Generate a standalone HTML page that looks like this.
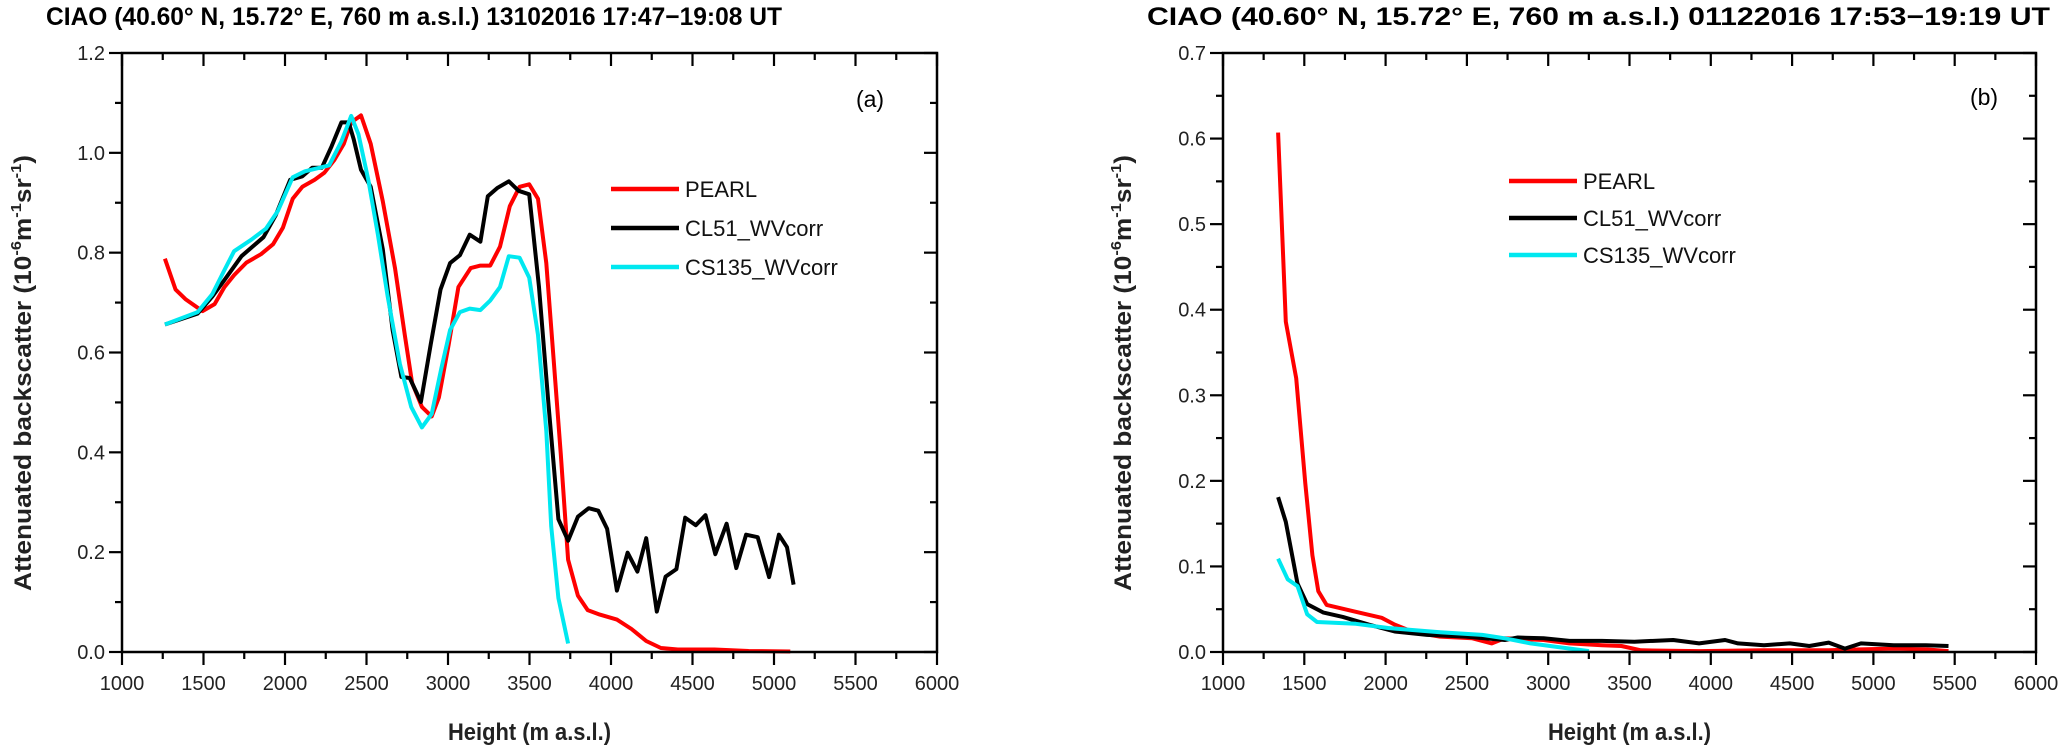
<!DOCTYPE html>
<html><head><meta charset="utf-8"><style>
body{margin:0;background:#fff;}
svg{display:block;font-family:"Liberation Sans",Arial,sans-serif;}
</style></head><body>
<svg id="chart" width="2067" height="750" viewBox="0 0 2067 750" xmlns="http://www.w3.org/2000/svg"></svg>
<script>
// Panel (a) data
const aPearlX=[1263,1329,1389,1494,1568,1628,1688,1763,1853,1927,1987,2047,2107,2182,2241,2301,2361,2406,2466,2526,2600,2675,2735,2780,2840,2900,2944,3004,3064,3139,3199,3259,3319,3379,3439,3498,3552,3603,3648,3692,3737,3797,3857,3931,4036,4126,4216,4306,4410,4635,4844,5100];
const aPearlY=[0.788,0.726,0.707,0.683,0.697,0.731,0.755,0.78,0.797,0.817,0.85,0.908,0.932,0.946,0.960,0.985,1.018,1.061,1.075,1.018,0.903,0.769,0.635,0.539,0.491,0.472,0.51,0.616,0.731,0.769,0.774,0.774,0.812,0.893,0.932,0.937,0.908,0.779,0.587,0.396,0.185,0.113,0.084,0.075,0.065,0.046,0.022,0.008,0.005,0.005,0.002,0.001];
const aCl51X=[1263,1464,1554,1628,1733,1868,1942,2032,2107,2167,2226,2286,2346,2391,2421,2466,2526,2600,2660,2714,2765,2834,2894,2954,3013,3073,3133,3199,3244,3304,3373,3433,3498,3558,3618,3677,3737,3797,3863,3922,3976,4036,4102,4162,4216,4281,4335,4401,4455,4520,4580,4640,4709,4769,4829,4900,4970,5030,5080,5120];
const aCl51Y=[0.656,0.678,0.712,0.745,0.793,0.831,0.874,0.946,0.953,0.970,0.970,1.013,1.061,1.061,1.028,0.966,0.932,0.807,0.645,0.551,0.549,0.501,0.616,0.726,0.779,0.795,0.836,0.822,0.913,0.930,0.943,0.924,0.917,0.731,0.491,0.266,0.223,0.271,0.288,0.283,0.247,0.123,0.199,0.161,0.228,0.081,0.151,0.166,0.269,0.254,0.274,0.196,0.257,0.168,0.235,0.23,0.15,0.235,0.21,0.135];
const aCsX=[1263,1464,1554,1628,1688,1793,1883,1957,2047,2122,2211,2271,2346,2406,2451,2511,2570,2630,2705,2774,2840,2900,2959,3013,3073,3133,3199,3259,3319,3373,3439,3498,3552,3603,3633,3677,3737];
const aCsY=[0.656,0.681,0.717,0.765,0.803,0.826,0.848,0.884,0.951,0.963,0.970,0.975,1.023,1.074,1.037,0.946,0.836,0.712,0.577,0.491,0.450,0.477,0.568,0.645,0.681,0.688,0.685,0.704,0.731,0.793,0.790,0.750,0.635,0.443,0.252,0.108,0.017];
// Panel (b) data
const bPearlX=[1339,1386,1450,1506,1550,1586,1637,1817,1976,2056,2175,2335,2534,2653,2733,2972,3131,3331,3450,3570,3928,4327,4725,4924,5124,5323,5462];
const bPearlY=[0.607,0.386,0.320,0.197,0.113,0.071,0.055,0.047,0.040,0.032,0.023,0.018,0.016,0.010,0.016,0.014,0.010,0.008,0.007,0.002,0.001,0.002,0.002,0.003,0.004,0.003,0.001];
const bCl51X=[1339,1386,1458,1518,1618,1737,1896,2056,2255,2494,2733,2813,2972,3131,3331,3530,3769,3928,4088,4167,4327,4486,4606,4725,4825,4924,5124,5323,5462];
const bCl51Y=[0.181,0.152,0.080,0.056,0.046,0.041,0.032,0.024,0.020,0.018,0.014,0.017,0.016,0.013,0.013,0.012,0.014,0.010,0.014,0.010,0.008,0.010,0.007,0.011,0.004,0.010,0.008,0.008,0.007];
const bCsX=[1339,1398,1458,1518,1578,1817,2016,2335,2594,2733,2892,3052,3251];
const bCsY=[0.109,0.085,0.077,0.044,0.035,0.033,0.028,0.023,0.020,0.016,0.010,0.006,0.001];
const xTicks=[1000,1500,2000,2500,3000,3500,4000,4500,5000,5500,6000];
const aYTicks=["0.0","0.2","0.4","0.6","0.8","1.0","1.2"];
const bYTicks=["0.0","0.1","0.2","0.3","0.4","0.5","0.6","0.7"];
const legendNames=["PEARL","CL51_WVcorr","CS135_WVcorr"];
const colors=["#ff0000","#000000","#00e8f0"];

const NS="http://www.w3.org/2000/svg";
const svg=document.getElementById('chart');
function mk(tag,attrs,parent){const e=document.createElementNS(NS,tag);for(const k in attrs)e.setAttribute(k,attrs[k]);(parent||svg).appendChild(e);return e;}

function panel(opt){
  const g=mk('g',{});
  
  
  const L=opt.left,R=opt.right,T=53,B=652;
  const sx=v=>L+(v-1000)/5000*(R-L);
  const sy=v=>B-v/opt.ymax*(B-T);
  opt.series.forEach((s,i)=>{
    const d=s.x.map((xv,j)=>(j?'L':'M')+sx(xv).toFixed(1)+','+sy(s.y[j]).toFixed(1)).join('');
    const p=mk('path',{d:d,fill:'none',stroke:colors[i],'stroke-width':4,'stroke-linejoin':'round'},g);
    
    
  });
  const fr=mk('rect',{x:L,y:T,width:R-L,height:B-T,fill:'none',stroke:'#000','stroke-width':2.5},g);
  
  
  xTicks.forEach((t,i)=>{
    const x=sx(t);
    mk('line',{x1:x,y1:B,x2:x,y2:B+13,stroke:'#000','stroke-width':2.2},g);
    mk('line',{x1:x,y1:T,x2:x,y2:T+13,stroke:'#000','stroke-width':2.2},g);
    if(i<xTicks.length-1){const xm=sx(t+250);
      mk('line',{x1:xm,y1:B,x2:xm,y2:B+7,stroke:'#000','stroke-width':2.2},g);
      mk('line',{x1:xm,y1:T,x2:xm,y2:T+7,stroke:'#000','stroke-width':2.2},g);}
    const tx=mk('text',{x:x,y:B+38,'font-size':20,'text-anchor':'middle',fill:'#222'},g);
    tx.textContent=t;
    
    
  });
  opt.yt.forEach((t,i)=>{
    const v=parseFloat(t);const y=sy(v);
    mk('line',{x1:L-13,y1:y,x2:L,y2:y,stroke:'#000','stroke-width':2.2},g);
    mk('line',{x1:R-13,y1:y,x2:R,y2:y,stroke:'#000','stroke-width':2.2},g);
    if(i<opt.yt.length-1){const ym=sy(v+opt.ystep/2);
      mk('line',{x1:L-7,y1:ym,x2:L,y2:ym,stroke:'#000','stroke-width':2.2},g);
      mk('line',{x1:R-7,y1:ym,x2:R,y2:ym,stroke:'#000','stroke-width':2.2},g);}
    const tx=mk('text',{x:L-17,y:y+7,'font-size':20,'text-anchor':'end',fill:'#222'},g);
    tx.textContent=t;
    
    
  });
  const ti=mk('text',{x:opt.titleX,y:25,'font-size':25,'font-weight':'bold',textLength:opt.titleW,lengthAdjust:'spacingAndGlyphs'},g);
  ti.textContent=opt.title;
  
  
  const xt=mk('text',{x:(L+R)/2,y:740,'font-size':24,'font-weight':'bold','text-anchor':'middle',fill:'#222',textLength:163,lengthAdjust:'spacingAndGlyphs'},g);
  xt.textContent='Height (m a.s.l.)';
  
  
  const yt=mk('text',{transform:'translate('+opt.ytX+',373) rotate(-90)','font-size':24,'font-weight':'bold','text-anchor':'middle',fill:'#222',textLength:436,lengthAdjust:'spacingAndGlyphs'},g);
  yt.innerHTML='Attenuated backscatter (10<tspan dy="-10" font-size="15">-6</tspan><tspan dy="10">m</tspan><tspan dy="-10" font-size="15">-1</tspan><tspan dy="10">sr</tspan><tspan dy="-10" font-size="15">-1</tspan><tspan dy="10">)</tspan>';
  
  
  const lab=mk('text',{x:opt.labX,y:opt.labY,'font-size':23,'text-anchor':'middle'},g);
  lab.textContent=opt.label;
  
  
  legendNames.forEach((n,i)=>{
    const y=opt.legY+i*opt.legDy;
    const ln=mk('line',{x1:opt.legX,y1:y,x2:opt.legX+68,y2:y,stroke:colors[i],'stroke-width':4.5},g);
    
    
    const lt=mk('text',{x:opt.legX+74,y:y+8,'font-size':22,fill:'#111'},g);
    lt.textContent=n;
    
    
  });
}
panel({name:'panel-a',left:122,right:937,ymax:1.2,ystep:0.2,yt:aYTicks,
  series:[{x:aPearlX,y:aPearlY},{x:aCl51X,y:aCl51Y},{x:aCsX,y:aCsY}],
  title:'CIAO  (40.60°  N, 15.72° E, 760 m a.s.l.) 13102016 17:47\u221219:08 UT',titleX:46,titleW:736,ytX:31,
  label:'(a)',labX:870,labY:107,legX:611,legY:189,legDy:39});
panel({name:'panel-b',left:1223,right:2036,ymax:0.7,ystep:0.1,yt:bYTicks,
  series:[{x:bPearlX,y:bPearlY},{x:bCl51X,y:bCl51Y},{x:bCsX,y:bCsY}],
  title:'CIAO  (40.60°  N, 15.72° E, 760 m a.s.l.) 01122016 17:53\u221219:19 UT',titleX:1147,titleW:903,ytX:1131,
  label:'(b)',labX:1984,labY:105,legX:1509,legY:181,legDy:37});
</script>
</body></html>
